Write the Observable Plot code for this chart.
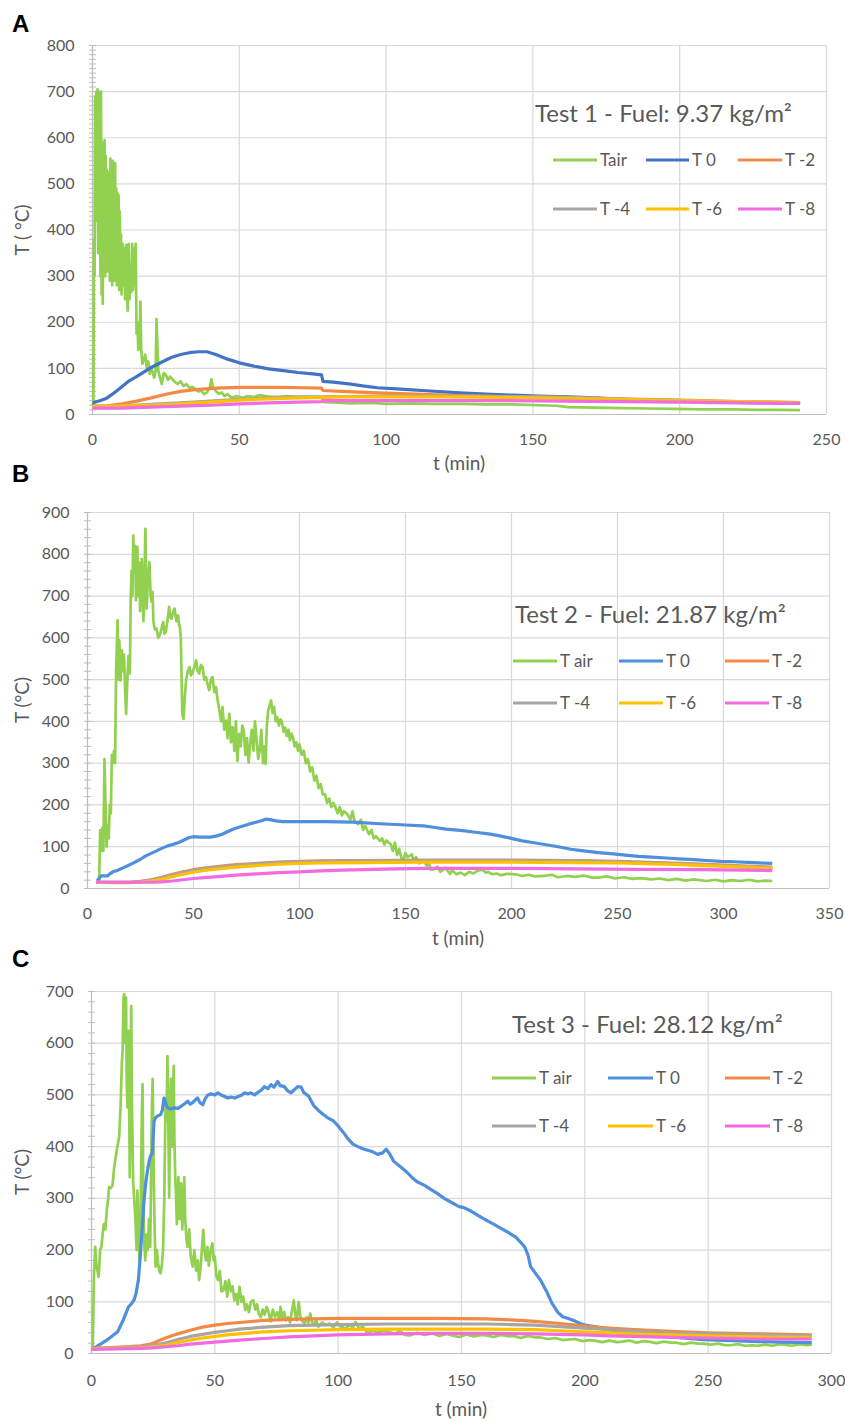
<!DOCTYPE html>
<html>
<head>
<meta charset="utf-8">
<script src="https://cdn.jsdelivr.net/npm/d3@7"></script>
<script src="https://cdn.jsdelivr.net/npm/@observablehq/plot@0.6"></script>
<style>
  html, body { margin: 0; padding: 0; background: #fff; }
  #page { position: relative; width: 845px; height: 1421px; overflow: hidden; }
  .panel { position: absolute; left: 0; }
  #overlay { position: absolute; left: 0; top: 0; pointer-events: none; }
</style>
</head>
<body>
<div id="page"></div>
<script>
// ---------------- DATA ----------------
const seriesNames = ["T air", "T 0", "T -2", "T -4", "T -6", "T -8"];
const seriesColors = ["#92D050", "#4472C4", "#F28A45", "#A5A5A5", "#FFC000", "#F06CE0"];
const seriesColorsBC = ["#92D050", "#4F8FDB", "#F28A45", "#A5A5A5", "#FFC000", "#F06CE0"];

const panelTitles = ["Test 1 - Fuel: 9.37 kg/m²", "Test 2 - Fuel: 21.87 kg/m²", "Test 3 - Fuel: 28.12 kg/m²"];
const legendNamesA = ["Tair", "T 0", "T -2", "T -4", "T -6", "T -8"];

// Test 1 (panel A) : [t (min), T (°C)]
const A_Tair = [[0,20],[0.3,25],[0.5,380],[0.7,300],[0.9,690],[1.1,560],[1.3,700],[1.5,420],[1.7,705],[1.9,350],[2.1,700],[2.3,480],[2.5,690],[2.7,300],[2.9,700],[3.1,260],[3.3,590],[3.5,240],[3.7,570],[3.9,330],[4.1,595],[4.3,300],[4.5,560],[4.7,380],[4.9,530],[5.1,310],[5.3,525],[5.5,330],[5.7,500],[5.9,290],[6.1,555],[6.3,310],[6.5,540],[6.7,280],[6.9,550],[7.1,320],[7.3,530],[7.5,290],[7.7,545],[7.9,300],[8.1,490],[8.3,280],[8.5,480],[8.7,330],[8.9,475],[9.1,270],[9.3,440],[9.5,300],[9.7,390],[9.9,260],[10.2,370],[10.5,280],[10.8,360],[11.1,250],[11.4,368],[11.7,270],[12.0,225],[12.3,370],[12.6,250],[12.9,300],[13.2,265],[13.5,370],[13.8,270],[14.1,360],[14.4,280],[14.7,370],[15.0,175],[15.3,200],[15.6,140],[16.0,150],[16.3,245],[16.6,140],[17.0,110],[17.5,120],[18.0,130],[18.5,100],[19.0,115],[19.5,88],[20.0,100],[20.5,92],[21.0,80],[21.5,95],[21.8,207],[22.1,150],[22.4,95],[23,80],[23.6,66],[24.3,90],[25,86],[25.7,75],[26.4,82],[27.3,76],[28.2,70],[29,66],[30,72],[31,62],[32,66],[33,58],[34,60],[35,55],[36,50],[37,52],[38,44],[39,48],[40,60],[40.5,76],[41,60],[42,51],[43,45],[44,48],[45,40],[46,44],[47.5,36],[49,40],[51,36],[53,40],[55,38],[57,42],[60,39],[63,38],[66,40],[70,37],[74,38],[78,36],[78.8,27],[82,26],[88,24],[95,25],[100,23],[108,24],[116,23],[125,23],[134,22],[143,22],[152,20],[158,19],[162,16],[171,15],[180,14],[189,13],[198,12],[208,11],[218,11],[226,10],[234,10],[241,9.5]];
const A_T0 = [[0,25],[1,27],[3,31],[5,36],[8,50],[10,60],[12.5,73],[15,82],[18,94],[20,102],[24,115],[27,124],[30,130],[33,134],[36,136],[39,136],[42,130],[46,120],[50,112],[55,105],[60,99],[65,95],[70,91],[75,88],[78,86],[78.5,72],[82,70],[88,66],[92,62],[97,58],[105,55],[115,51],[125,47],[134,44],[143,42],[152,40],[162,38],[171,36],[180,33],[189,31],[198,29],[208,28],[220,26],[230,25],[241,24]];
const A_Tm2 = [[0,18],[5,19],[10,23],[15,29],[20,36],[25,44],[30,50],[35,54],[42,57],[50,59],[57,59],[65,59],[72,58],[78,57],[78.5,52],[85,50],[97,47],[110,44],[125,41],[140,39],[152,38],[165,36],[180,33],[195,31],[210,29],[225,26],[241,25]];
const A_Tm4 = [[0,18],[10,19],[20,22],[30,25],[40,29],[50,33],[60,36],[70,38],[78,38],[85,39],[100,40],[120,40],[140,39],[160,37],[180,34],[200,31],[220,28],[241,26]];
const A_Tm6 = [[0,17],[10,18],[20,20],[30,23],[40,27],[50,31],[60,34],[70,36],[78,37],[85,38],[100,38],[120,38],[140,37],[160,35],[180,33],[200,30],[220,28],[241,26]];
const A_Tm8 = [[0,14],[10,14],[20,16],[30,18],[40,20],[50,23],[60,25],[70,27],[78,28],[79,30],[90,30],[100,30],[120,30],[140,30],[160,29],[180,28],[200,27],[220,25],[241,24]];

// Test 2 (panel B)
const B_Tair = [[4.5,18],[5.5,20],[6,140],[6.5,90],[7,145],[7.5,90],[8,310],[8.5,200],[9,100],[9.5,150],[10,120],[10.5,200],[11,180],[11.5,320],[12,300],[12.5,330],[13,300],[13.5,520],[14.2,642],[14.6,500],[15,594],[15.6,498],[16.2,570],[16.6,520],[17.2,560],[17.8,470],[18.2,418],[18.8,500],[19.3,556],[20,515],[20.4,700],[20.8,761],[21.2,700],[21.6,845],[22,760],[22.4,820],[22.9,690],[23.5,818],[24,700],[24.4,780],[24.8,664],[25.2,740],[25.6,789],[26,700],[26.4,640],[26.8,720],[27.3,861],[27.6,760],[27.9,670],[28.5,740],[29.2,781],[29.8,700],[30.3,686],[30.7,710],[31.1,638],[31.8,620],[32.6,622],[33.3,600],[34.1,606],[34.8,620],[35.7,638],[36.3,610],[36.9,614],[37.7,640],[38.5,674],[39,650],[39.6,646],[40.3,660],[41.1,670],[41.9,640],[42.7,654],[43.2,630],[43.5,630],[44,600],[44.7,418],[45.3,406],[45.9,460],[46.5,498],[47.3,520],[48.1,530],[48.8,510],[49.6,518],[50.4,530],[51.2,546],[52,520],[52.7,515],[53.5,535],[54.3,530],[55.1,500],[55.9,506],[56.6,490],[57.4,475],[58.2,500],[59,506],[59.8,470],[60.6,482],[61.4,450],[62.2,426],[63,400],[63.7,434],[64.5,380],[65.3,402],[66.1,360],[66.9,418],[67.7,350],[68.5,386],[69.3,330],[70,400],[70.7,305],[71.5,370],[72.3,340],[73,390],[73.7,378],[74.5,320],[75.2,360],[76,302],[76.8,350],[77.5,380],[78.3,330],[79,400],[79.7,360],[80.5,310],[81.2,330],[82,380],[82.8,300],[83.5,340],[84,298],[84.6,390],[85.2,425],[86,440],[86.6,450],[87.3,420],[88,435],[88.8,400],[89.5,410],[90.3,390],[91,405],[91.7,400],[92.5,375],[93.3,385],[94,365],[94.8,380],[95.5,355],[96.2,370],[96.9,362],[97.7,340],[98.5,350],[99.3,330],[100,345],[101,320],[102,330],[103,300],[104,310],[105,280],[106,290],[107,258],[108,270],[109,240],[110,250],[111,225],[112,226],[113,205],[114,215],[115,195],[116,205],[117,194],[118,180],[119,195],[120,175],[121,185],[122.6,178],[124,165],[125,185],[126,160],[127.7,154],[129,165],[130,140],[131,150],[132.8,130],[134,140],[135,120],[136,125],[138,114],[139,120],[140,105],[141,115],[143,106],[144,90],[145,110],[146,80],[147,95],[148,74],[149,70],[150,85],[151,75],[153,82],[154,65],[155,75],[156.5,60],[158.5,66],[160,55],[161,60],[162,45],[163.7,46],[165,52],[166.5,40],[168.8,50],[170,42],[171,35],[172,44],[174,34],[176,38],[178,32],[180,40],[182,36],[184,42],[186,45],[188,38],[189,40],[191,34],[193,36],[195,32],[198,35],[202,34],[205,30],[208,33],[211,29],[215,30],[219,33],[222,27],[226,30],[230,28],[234,31],[238,26],[241,26],[245,29],[249,24],[253,27],[257,23],[261,25],[266,22],[270,24],[274,20],[278,23],[282,19],[286,22],[292,18],[296,21],[300,17],[304,20],[308,18],[312,21],[316,17],[320,19],[323,18]];
const B_T0 = [[4.5,18],[6.4,30],[9.5,30],[10.5,35],[12,40],[14,43],[17,50],[20,57],[22,62],[25,70],[27.5,78],[30,84],[32.6,90],[35,96],[37.8,102],[40,105],[43,110],[45,115],[48,122],[50,124],[53,123],[58,123],[61,126],[63.5,130],[66,136],[68.6,142],[71,146],[73.7,150],[76,154],[79,158],[82,162],[84,166],[86,165],[89,162],[92,160],[96,160],[102,160],[112,160],[125,159],[138,155],[150,152],[158.5,150],[164,146],[169,142],[176,139],[184,134],[190,130],[194.5,126],[200,120],[205,114],[210,110],[215,106],[222,100],[228,94],[234,90],[241,86],[248,83],[253.6,80],[260,77],[266,75],[273,73],[279,71],[286,69],[292,67],[299,65],[305,64],[314,62],[323,60]];
const B_Tm2 = [[4,15],[10,15],[20,15],[25,17],[30,21],[35,27],[40,34],[45,40],[50,45],[55,49],[60,52],[70,57],[80,60],[90,63],[100,65],[110,66],[130,67],[160,68],[200,68],[230,67],[250,65],[280,60],[300,56],[323,51]];
const B_Tm4 = [[4,15],[10,15],[20,15],[25,16],[30,20],[35,25],[40,32],[45,38],[50,43],[55,47],[60,50],[70,55],[80,59],[90,62],[100,64],[110,65],[130,66],[160,67],[200,67],[230,66],[250,64],[280,59],[300,55],[323,50]];
const B_Tm6 = [[4,15],[10,14],[20,14],[25,15],[30,18],[35,22],[40,28],[45,34],[50,39],[55,43],[60,46],[70,51],[80,55],[90,58],[100,60],[110,61],[130,62],[160,63],[200,63],[230,62],[250,61],[280,57],[300,53],[323,48]];
const B_Tm8 = [[4,15],[10,15],[20,15],[30,15],[35,16],[40,18],[45,21],[50,24],[55,26],[60,28],[70,32],[80,35],[90,38],[100,40],[110,42],[120,44],[130,45],[145,47],[160,48],[180,48],[200,48],[230,47],[260,46],[290,45],[323,43]];

// Test 3 (panel C)
const C_Tair = [[0,10],[0.5,12],[1,150],[1.5,206],[2,170],[2.9,148],[3.5,200],[4,206],[4.5,230],[5,250],[5.6,240],[6.2,277],[6.8,300],[7.1,322],[7.8,320],[8.5,325],[9.2,360],[9.8,380],[10.5,400],[11.2,418],[11.8,480],[12.3,560],[12.6,585],[13,690],[13.3,695],[13.7,600],[14,688],[14.3,520],[14.6,476],[15,624],[15.2,540],[15.5,341],[15.8,500],[16.1,672],[16.4,480],[16.9,329],[17.3,300],[17.8,260],[18.3,200],[18.6,315],[19,240],[19.5,180],[20,300],[20.4,460],[20.7,521],[21,300],[21.4,210],[21.8,180],[22.3,230],[22.8,200],[23.3,260],[23.8,206],[24.1,315],[24.5,480],[24.8,531],[25.2,350],[25.6,240],[26,168],[26.5,200],[27,175],[27.5,160],[28,155],[28.5,170],[29,200],[29.5,300],[30,480],[30.4,450],[30.8,575],[31.2,420],[31.5,302],[31.9,470],[32.2,531],[32.6,400],[33,470],[33.3,556],[33.6,420],[34,329],[34.2,315],[34.6,250],[35.2,341],[35.7,260],[36.3,329],[36.8,240],[37.3,300],[37.6,341],[38,260],[38.5,220],[39,206],[39.6,240],[40.2,190],[41,168],[41.7,200],[42.4,160],[43.1,180],[43.6,142],[44.3,170],[45.3,239],[45.8,200],[46.4,180],[47,206],[47.6,170],[48.3,200],[49,213],[49.5,180],[50,187],[50.6,150],[51.3,142],[52,160],[52.7,120],[53.5,122],[54.3,140],[55,110],[55.7,142],[56.5,120],[57.2,130],[57.9,103],[58.6,115],[59.3,95],[60,129],[60.8,100],[61.5,110],[62.3,84],[63,95],[63.8,80],[64.6,100],[65.6,103],[66.4,85],[67.1,95],[67.8,77],[68.6,70],[69.4,85],[70.2,75],[71,90],[71.8,80],[72.6,62],[73.5,85],[74.4,71],[75.3,80],[76.2,65],[76.6,90],[77.4,70],[78.1,80],[78.8,64],[79.7,70],[80.5,60],[81.2,80],[82,103],[82.6,75],[83.2,64],[84,100],[84.7,70],[85.6,62],[86.5,58],[87.2,70],[88,60],[88.7,77],[89.5,60],[90.3,55],[91,65],[92,52],[93.5,60],[95,55],[96.4,58],[98,50],[99.5,60],[101,52],[103,48],[104.5,55],[106,50],[107,61],[108.5,48],[110,52],[112,39],[114,45],[116,40],[118,44],[120.6,42],[123,38],[125,44],[127,36],[129,35],[132,40],[135,36],[138,39],[141,34],[144,38],[147,34],[149,32],[152,37],[155,33],[158,36],[160,35],[163,32],[166,36],[169,33],[171,34],[174,30],[177,34],[180,31],[182,31],[185,28],[188,30],[191,26],[193,27],[196,28],[199,24],[202,26],[204,25],[207,22],[210,25],[213,22],[215,23],[218,25],[221,21],[224,24],[226,23],[229,20],[232,23],[235,21],[237,21],[240,18],[243,21],[246,19],[248,19],[251,17],[254,19],[257,16],[259,16],[262,18],[265,15],[268,16],[270,15],[273,17],[276,15],[279,18],[281,17],[284,15],[287,18],[290,16],[292,17]];
const C_T0 = [[0,8],[1.8,13],[4,19],[6.2,26],[8.4,34],[10.6,42],[12.8,64],[15,90],[16,95],[17.2,103],[18,115],[19,142],[19.8,190],[20.5,239],[21.3,296],[22,330],[22.7,354],[23.5,375],[24.2,385],[24.7,386],[25,420],[25.4,450],[26,456],[26.7,459],[28,462],[28.7,470],[29.4,494],[30,485],[30.8,475],[32,473],[33.5,475],[35,474],[36.3,478],[37.5,482],[39,488],[40,482],[41,485],[42,490],[43,494],[44,485],[45.1,481],[46,492],[47.2,500],[48.5,502],[50,500],[51.2,504],[52.5,500],[54,497],[55.3,494],[56.5,496],[58,494],[59.5,497],[61,500],[62,504],[63.5,502],[64.5,504],[66.1,500],[67.5,505],[69,510],[70.1,516],[71.5,512],[72.8,520],[74,515],[75.5,526],[76.5,518],[78.2,516],[79.5,508],[80.9,504],[82.2,510],[83.6,516],[85,515],[86,505],[88,498],[90,480],[92,470],[94,462],[96,455],[98,450],[100,440],[102,428],[104,415],[106,405],[108,400],[110,396],[112,393],[114,390],[116,385],[118,388],[119.5,395],[121,385],[122.5,372],[125,362],[128,350],[130,340],[132,332],[135,325],[138,316],[140,310],[143,300],[146,292],[149,284],[151,282],[154,275],[157,266],[160,258],[163,250],[166,242],[169,234],[172,225],[174,215],[175.6,206],[177,190],[178,168],[180,155],[182,142],[184.5,120],[186.7,97],[189,80],[191,71],[193,68],[195.5,64],[198,58],[200,55],[204,52],[210,46],[215,42],[220,38],[226,35],[235,32],[248,27],[260,25],[270,23],[280,22],[292,21]];
const C_Tm2 = [[0,10],[10,12],[20,15],[24,18],[27,24],[30,30],[35,38],[40,45],[45,51],[50,55],[55,58],[60,60],[70,64],[80,66],[90,67],[100,68],[120,68],[140,68],[160,67],[170,65],[180,62],[190,58],[200,53],[210,49],[220,46],[235,43],[250,40],[270,38],[292,36]];
const C_Tm4 = [[0,10],[10,11],[20,13],[25,16],[30,20],[35,27],[40,33],[45,37],[50,41],[55,44],[60,47],[70,51],[80,54],[90,55],[100,56],[120,57],[140,57],[160,57],[170,56],[180,55],[190,52],[200,49],[210,46],[220,43],[235,40],[250,38],[270,36],[292,34]];
const C_Tm6 = [[0,9],[10,10],[20,11],[25,13],[30,16],[35,21],[40,26],[45,30],[50,33],[55,36],[60,38],[70,42],[80,44],[90,45],[100,46],[120,47],[140,47],[160,47],[180,46],[190,44],[200,42],[210,40],[220,38],[235,36],[250,34],[270,32],[292,31]];
const C_Tm8 = [[0,8],[10,9],[20,10],[25,11],[30,13],[35,15],[40,18],[45,20],[50,22],[55,24],[60,26],[70,29],[80,32],[90,34],[100,36],[120,38],[140,39],[160,39],[180,38],[190,37],[200,36],[210,34],[220,33],[235,31],[250,30],[270,28],[292,28]];

// axis ticks
const xTicksA = [0, 50, 100, 150, 200, 250];
const xTicksB = [0, 50, 100, 150, 200, 250, 300, 350];
const xTicksC = [0, 50, 100, 150, 200, 250, 300];
const yTicksA = [0, 100, 200, 300, 400, 500, 600, 700, 800];
const yTicksB = [0, 100, 200, 300, 400, 500, 600, 700, 800, 900];
const yTicksC = [0, 100, 200, 300, 400, 500, 600, 700];
const yMinorStep = [10, 20, 20];

// ---------------- DRAW ----------------
const page = document.getElementById("page");
const GRID = "#d9d9d9", AXIS = "#bfbfbf", TEXT = "#595959";
const FONT = "Lato, 'Open Sans', sans-serif";

function makePanel(cfg) {
  const ymax = cfg.yTicks[cfg.yTicks.length - 1];
  const xmax = cfg.xTicks[cfg.xTicks.length - 1];
  const minor = d3.range(0, ymax + 0.001, cfg.minor);
  const lines = cfg.series.map((s, i) =>
    Plot.line(s, {x: d => d[0], y: d => d[1], stroke: cfg.colors[i],
      strokeWidth: i === 0 ? 2.7 : 3.2, strokeLinejoin: "round", strokeLinecap: "butt"}));
  const svg = Plot.plot({
    width: 845, height: cfg.height,
    marginTop: cfg.mt, marginBottom: cfg.mb, marginLeft: cfg.ml, marginRight: cfg.mr,
    style: {fontFamily: FONT, fontSize: "16px", color: TEXT, background: "transparent", overflow: "visible"},
    x: {domain: [0, xmax]},
    y: {domain: [0, ymax]},
    marks: [
      Plot.gridX(cfg.xTicks, {stroke: GRID, strokeOpacity: 1, strokeWidth: 1.2}),
      Plot.gridY(cfg.yTicks, {stroke: GRID, strokeOpacity: 1, strokeWidth: 1.2}),
      Plot.axisY(minor, {tickSize: 7, dx: 4, tickFormat: () => "", stroke: AXIS, strokeOpacity: 1, label: null}),
      Plot.ruleX([0], {stroke: AXIS, strokeWidth: 1.2}),
      Plot.ruleY([0], {stroke: AXIS, strokeWidth: 1.2}),
      Plot.axisY(cfg.yTicks, {tickSize: 0, tickPadding: 18, label: null, fill: TEXT, fontSize: 16, fontFamily: FONT}),
      Plot.axisX(cfg.xTicks, {tickSize: 0, tickPadding: cfg.xpad, label: null, fill: TEXT, fontSize: 16, fontFamily: FONT}),
      ...lines
    ]
  });
  svg.classList.add("panel");
  svg.style.top = cfg.top + "px";
  page.appendChild(svg);
}

makePanel({top: 0, height: 475, mt: 45, mb: 61, ml: 92, mr: 19, xTicks: xTicksA, yTicks: yTicksA, minor: yMinorStep[0], xpad: 19,
  series: [A_Tair, A_T0, A_Tm2, A_Tm4, A_Tm6, A_Tm8], colors: seriesColors});
makePanel({top: 475, height: 475, mt: 37, mb: 62, ml: 87, mr: 16, xTicks: xTicksB, yTicks: yTicksB, minor: yMinorStep[1], xpad: 19,
  series: [B_Tair, B_T0, B_Tm2, B_Tm4, B_Tm6, B_Tm8], colors: seriesColorsBC});
makePanel({top: 950, height: 471, mt: 41, mb: 68, ml: 91, mr: 14, xTicks: xTicksC, yTicks: yTicksC, minor: yMinorStep[2], xpad: 21,
  series: [C_Tair, C_T0, C_Tm2, C_Tm4, C_Tm6, C_Tm8], colors: seriesColorsBC});

// ---------------- OVERLAY TEXT (titles, legends, axis titles) ----------------
const NS = "http://www.w3.org/2000/svg";
const ov = document.createElementNS(NS, "svg");
ov.setAttribute("id", "overlay");
ov.setAttribute("width", 845);
ov.setAttribute("height", 1421);
page.appendChild(ov);
function txt(s, x, y, opts = {}) {
  const t = document.createElementNS(NS, "text");
  t.textContent = s;
  t.setAttribute("x", x); t.setAttribute("y", y);
  t.setAttribute("fill", opts.fill || TEXT);
  t.setAttribute("font-family", opts.family || FONT);
  t.setAttribute("font-size", opts.size || 17);
  if (opts.weight) t.setAttribute("font-weight", opts.weight);
  t.setAttribute("text-anchor", opts.anchor || "start");
  if (opts.transform) t.setAttribute("transform", opts.transform);
  ov.appendChild(t);
}
function seg(x1, x2, y, color) {
  const l = document.createElementNS(NS, "line");
  l.setAttribute("x1", x1); l.setAttribute("x2", x2);
  l.setAttribute("y1", y); l.setAttribute("y2", y);
  l.setAttribute("stroke", color); l.setAttribute("stroke-width", 3.2);
  ov.appendChild(l);
}

// panel letters
const LET = "'Liberation Sans', Arial, sans-serif";
txt("A", 12, 32, {family: LET, weight: "bold", size: 24, fill: "#000"});
txt("B", 12, 482, {family: LET, weight: "bold", size: 24, fill: "#000"});
txt("C", 12, 967, {family: LET, weight: "bold", size: 24, fill: "#000"});

// axis titles
txt("T ( °C)", 0, 0, {anchor: "middle", size: 19, transform: "translate(29,230) rotate(-90)"});
txt("T (°C)", 0, 0, {anchor: "middle", size: 19, transform: "translate(29,700) rotate(-90)"});
txt("T (°C)", 0, 0, {anchor: "middle", size: 19, transform: "translate(29,1172) rotate(-90)"});
txt("t (min)", 459, 470, {anchor: "middle", size: 19});
txt("t (min)", 458, 945, {anchor: "middle", size: 19});
txt("t (min)", 461, 1416, {anchor: "middle", size: 19});

// in-plot titles
txt(panelTitles[0], 535, 122, {size: 24});
txt(panelTitles[1], 515, 623, {size: 24});
txt(panelTitles[2], 512, 1033, {size: 24});

// legends
function legend(names, colors, cols, rows) {
  names.forEach((n, i) => {
    const c = cols[i % 3], y = rows[Math.floor(i / 3)];
    seg(c[0], c[1], y, colors[i]);
    txt(n, c[1] + 3, y + 6, {size: 17});
  });
}
legend(legendNamesA, seriesColors, [[553, 597], [646, 689], [738, 782]], [160, 209]);
legend(seriesNames, seriesColorsBC, [[513, 557], [619, 663], [725, 769]], [661, 703]);
legend(seriesNames, seriesColorsBC, [[492, 536], [608, 653], [725, 770]], [1078, 1126]);
</script>
</body>
</html>
